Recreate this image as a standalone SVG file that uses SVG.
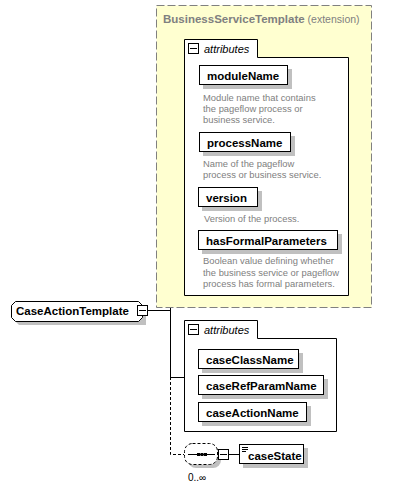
<svg xmlns="http://www.w3.org/2000/svg" width="414" height="490" viewBox="0 0 414 490">
<style>
.b{font-family:"Liberation Sans",Arial,sans-serif;font-weight:bold;font-size:11.5px;fill:#000}
.d{font-family:"Liberation Sans",Arial,sans-serif;font-size:9.4px;fill:#808080}
.i{font-family:"Liberation Sans",Arial,sans-serif;font-style:italic;font-size:11px;fill:#000}
.box{fill:#fff;stroke:#000;stroke-width:1}
.sh{fill:#c0c0c0}
.ln{fill:none;stroke:#000;stroke-width:1}
.dl{fill:none;stroke:#000;stroke-width:1;stroke-dasharray:3,2}
</style>
<defs>
<g id="minus">
<rect x="1" y="1" width="10" height="10" fill="#000"/>
<rect x="0.5" y="0.5" width="10" height="10" fill="#fff" stroke="#000"/>
<line x1="2" y1="5.5" x2="9" y2="5.5" stroke="#000"/>
</g>
</defs>
<rect width="414" height="490" fill="#fff"/>
<g id="connectors">
<path class="ln" d="M147,310.5 H170.5 M170.5,167.5 H184 M170.5,167 V377 M170.5,377.5 H184"/>
<path class="dl" d="M170.5,377 V454.5 H184"/>
<line class="ln" x1="229" y1="454.5" x2="239" y2="454.5"/>
</g>
<g id="extension">
<rect x="156.5" y="5.5" width="215" height="302" fill="#ffffd0" stroke="#808080" stroke-dasharray="8,3"/>
<text x="163" y="22.5" class="b" style="fill:#808080">BusinessServiceTemplate<tspan style="font-weight:normal;font-size:10.5px"> (extension)</tspan></text>
</g>
<g id="attributes1">
<path class="box" d="M184.5,295.5 V39.5 H257.5 V57.5 H348.5 V295.5 Z"/>
<use href="#minus" x="188" y="43"/>
<text x="204" y="52.5" class="i">attributes</text>
</g>
<g id="moduleName">
<rect class="sh" x="203" y="69" width="89" height="20"/>
<rect class="box" x="199.5" y="65.5" width="88" height="19"/>
<text x="207" y="79.5" class="b">moduleName</text>
<text class="d"><tspan x="203" y="101">Module name that contains</tspan><tspan x="203" y="112">the pageflow process or</tspan><tspan x="203" y="123">business service.</tspan></text>
</g>
<g id="processName">
<rect class="sh" x="203" y="136" width="92" height="20"/>
<rect class="box" x="199.5" y="132.5" width="91" height="19"/>
<text x="207" y="146.5" class="b">processName</text>
<text class="d"><tspan x="203" y="166.5">Name of the pageflow</tspan><tspan x="203" y="178">process or business service.</tspan></text>
</g>
<g id="version">
<rect class="sh" x="202" y="191" width="60" height="20"/>
<rect class="box" x="198.5" y="187.5" width="59" height="19"/>
<text x="206" y="201.5" class="b">version</text>
<text class="d"><tspan x="204" y="221.5">Version of the process.</tspan></text>
</g>
<g id="hasFormalParameters">
<rect class="sh" x="202" y="234" width="140" height="20"/>
<rect class="box" x="198.5" y="230.5" width="139" height="19"/>
<text x="206" y="244.5" class="b">hasFormalParameters</text>
<text class="d"><tspan x="203" y="264">Boolean value defining whether</tspan><tspan x="203" y="275.5">the business service or pageflow</tspan><tspan x="203" y="287">process has formal parameters.</tspan></text>
</g>
<g id="CaseActionTemplate">
<path class="sh" d="M19,305 H142 L146,309 V325 H19 L15,321 V309 Z"/>
<path class="box" d="M15.5,301.5 H138.5 L142.5,305.5 V317.5 L138.5,321.5 H15.5 L11.5,317.5 V305.5 Z"/>
<text x="16" y="315" class="b">CaseActionTemplate</text>
<use href="#minus" x="137" y="305"/>
</g>
<g id="attributes2">
<path class="box" d="M184.5,431.5 V320.5 H257.5 V338.5 H336.5 V431.5 Z"/>
<use href="#minus" x="188" y="324"/>
<text x="204" y="333.5" class="i">attributes</text>
</g>
<g id="caseClassName">
<rect class="sh" x="202" y="353" width="101" height="20"/>
<rect class="box" x="198.5" y="349.5" width="100" height="19"/>
<text x="206" y="363.5" class="b">caseClassName</text>
</g>
<g id="caseRefParamName">
<rect class="sh" x="202" y="379" width="126" height="20"/>
<rect class="box" x="198.5" y="375.5" width="125" height="19"/>
<text x="206" y="389.5" class="b">caseRefParamName</text>
</g>
<g id="caseActionName">
<rect class="sh" x="202" y="406" width="109" height="20"/>
<rect class="box" x="198.5" y="402.5" width="108" height="19"/>
<text x="206" y="416.5" class="b">caseActionName</text>
</g>
<g id="sequence">
<rect class="sh" x="188" y="447" width="33" height="21" rx="8" ry="8"/>
<rect x="184.5" y="443.5" width="33" height="21" rx="8" ry="8" fill="#fff" stroke="#000" stroke-dasharray="3,2"/>
<line x1="188" y1="454.5" x2="215" y2="454.5" stroke="#000"/>
<rect x="197" y="453" width="3" height="3" fill="#000"/>
<rect x="200.5" y="453" width="3" height="3" fill="#000"/>
<rect x="204" y="453" width="3" height="3" fill="#000"/>
<use href="#minus" x="218" y="449"/>
<text x="188" y="481" style="font-family:'Liberation Sans',Arial,sans-serif;font-size:10px">0..∞</text>
</g>
<g id="caseState">
<rect class="sh" x="243" y="448" width="65" height="20"/>
<rect class="box" x="239.5" y="444.5" width="64" height="19"/>
<path d="M242,447.5 H248 M242,449.5 H248 M242,451.5 H246" stroke="#000" stroke-width="1"/>
<text x="248" y="459.5" class="b">caseState</text>
</g>
</svg>
